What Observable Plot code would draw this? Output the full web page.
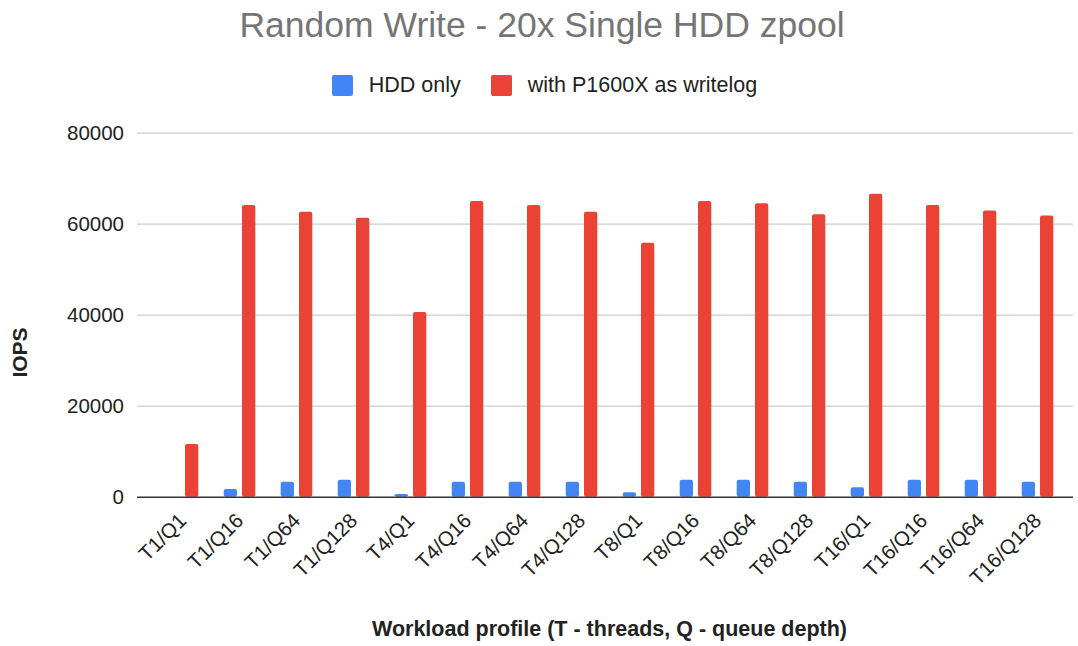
<!DOCTYPE html>
<html>
<head>
<meta charset="utf-8">
<script src="https://cdn.jsdelivr.net/npm/d3@7"></script>
<script src="https://cdn.jsdelivr.net/npm/@observablehq/plot@0.6"></script>
<style>
  html, body { margin: 0; padding: 0; background: #fff; }
  body { width: 1078px; height: 646px; overflow: hidden; font-family: "Liberation Sans", Arial, sans-serif; }
  #title { height: 50px; line-height: 50px; text-align: center; font-size: 35.5px; color: #757575; padding-left: 6px; box-sizing: border-box; }
  #legend { height: 60px; box-sizing: border-box; padding-top: 11px; padding-left: 11px; display: flex; justify-content: center; align-items: center; font-size: 21.5px; color: #222; }
  #legend .item { display: flex; align-items: center; height: 22px; }
  #legend .sw { width: 21px; height: 21px; border-radius: 2px; margin-right: 16px; }
  #legend .item + .item { margin-left: 30px; }
  #chart svg { display: block; }
</style>
</head>
<body>
<div id="title">Random Write - 20x Single HDD zpool</div>
<div id="legend"></div>
<div id="chart"></div>
<script>
const categories = ["T1/Q1","T1/Q16","T1/Q64","T1/Q128","T4/Q1","T4/Q16","T4/Q64","T4/Q128","T8/Q1","T8/Q16","T8/Q64","T8/Q128","T16/Q1","T16/Q16","T16/Q64","T16/Q128"];
const hddOnly   = [0, 1700, 3300, 3700, 600, 3300, 3300, 3300, 1000, 3700, 3700, 3300, 2100, 3700, 3700, 3300];
const withSlog  = [11600, 64100, 62600, 61300, 40600, 65000, 64100, 62600, 55800, 65000, 64500, 62100, 66600, 64100, 62900, 61800];
const seriesNames = ["HDD only", "with P1600X as writelog"];
const seriesColors = ["#4285F4", "#EA4335"];
const yTicks = [0, 20000, 40000, 60000, 80000];
const xTitle = "Workload profile (T - threads, Q - queue depth)";
const yTitle = "IOPS";

const rows = categories.map((c, i) => ({cat: c, hdd: hddOnly[i], slog: withSlog[i]}));

// legend
const legend = document.getElementById("legend");
seriesNames.forEach((name, i) => {
  const it = document.createElement("div");
  it.className = "item";
  const sw = document.createElement("div");
  sw.className = "sw";
  sw.style.background = seriesColors[i];
  const tx = document.createElement("span");
  tx.textContent = name;
  it.appendChild(sw); it.appendChild(tx);
  legend.appendChild(it);
});

const chart = Plot.plot({
  width: 1078,
  height: 536,
  marginTop: 22.7,
  marginBottom: 149.3,
  marginLeft: 137,
  marginRight: 5,
  style: {fontFamily: "'Liberation Sans', Arial, sans-serif", fontSize: "20.5px", color: "#222", background: "#fff"},
  x: {type: "band", domain: categories, padding: 0, insetLeft: 9, label: null},
  y: {domain: [0, 80000], label: null},
  marks: [
    Plot.gridY(yTicks.filter(d => d > 0), {stroke: "#cccccc", strokeOpacity: 1, strokeWidth: 1.2}),
    Plot.axisY(yTicks, {tickSize: 0, tickPadding: 13.5, tickFormat: d => String(d), fontSize: 20.5, fill: "#222", label: null}),
    Plot.axisX({tickSize: 0, tickRotate: -45, tickPadding: 20, fontSize: 20.5, fill: "#222", label: null}),
    Plot.barY(rows, {x: "cat", y: "hdd", fill: seriesColors[0], insetLeft: 12.7, insetRight: 31, rx: 2}),
    Plot.barY(rows, {x: "cat", y: "slog", fill: seriesColors[1], insetLeft: 31, insetRight: 12.7, rx: 2}),
    Plot.ruleY([0], {stroke: "#333", strokeWidth: 1.5}),
    Plot.text([xTitle], {frameAnchor: "bottom", dy: 132.3, dx: 4, text: d => d, fontSize: 21.5, fontWeight: "bold", fill: "#222", lineAnchor: "middle", textAnchor: "middle"}),
    Plot.text([yTitle], {frameAnchor: "left", dx: -117, dy: 37.3, rotate: -90, text: d => d, fontSize: 21, fontWeight: "bold", fill: "#222", lineAnchor: "middle", textAnchor: "middle"})
  ]
});
document.getElementById("chart").appendChild(chart);
</script>
</body>
</html>
